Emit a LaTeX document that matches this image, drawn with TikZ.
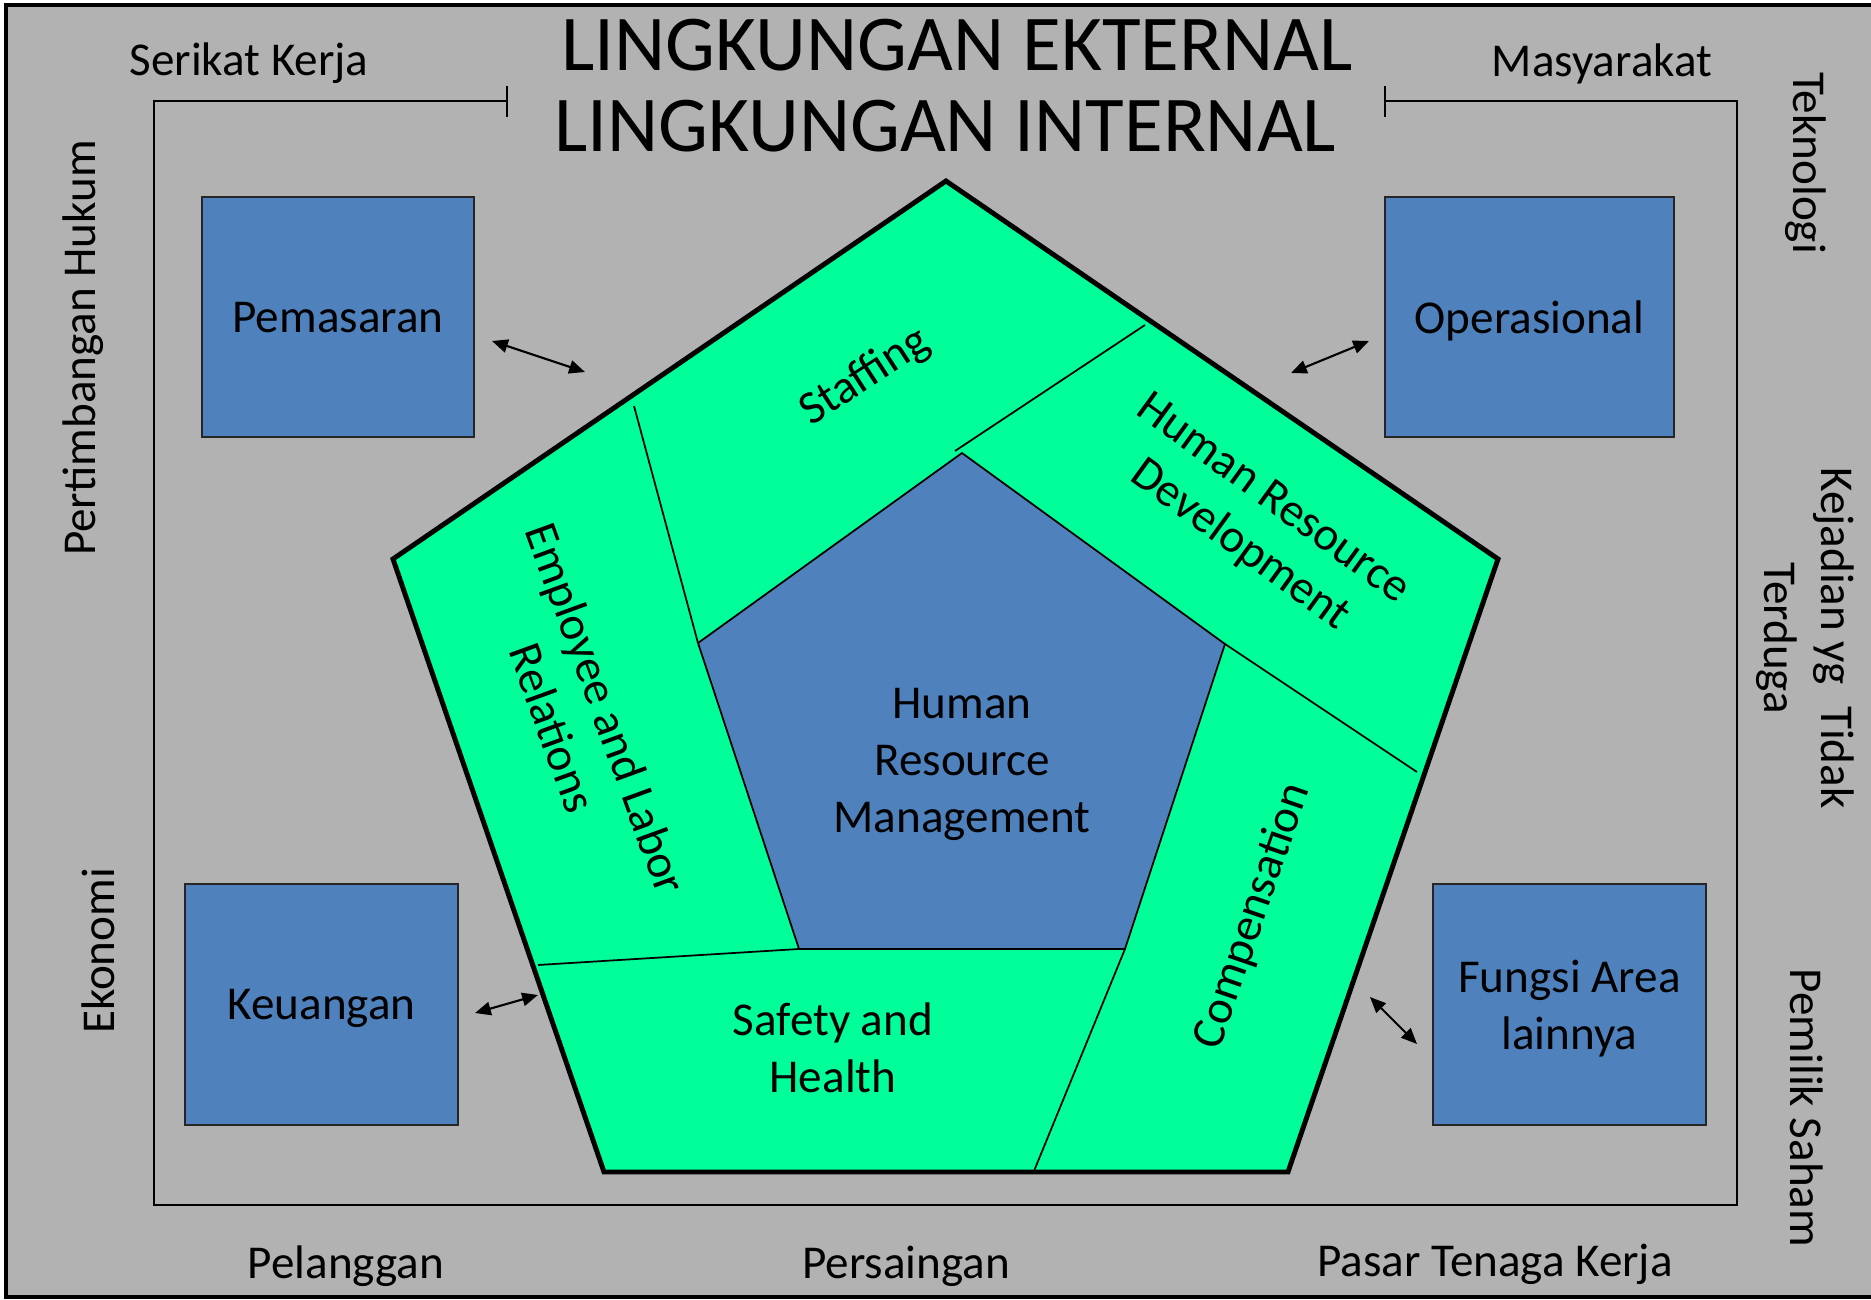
\documentclass[tikz,border=0pt]{standalone}
\usepackage{fontspec}
\setmainfont{Carlito}
\usetikzlibrary{arrows.meta}

\definecolor{envgray}{HTML}{B2B2B2}
\definecolor{hrgreen}{HTML}{00FF99}
\definecolor{hrblue}{HTML}{4F81BD}

\begin{document}
\begin{tikzpicture}[x=0.01cm,y=-0.01cm]
        \tikzstyle{every node}=[font=\fontsize{13.4}{16.2}\selectfont, inner sep=0pt]
        \tikzstyle{area}=[draw=black!85, line width=0.6pt, fill=hrblue, minimum height=2.4cm, text depth=0pt, align=center]
        \tikzstyle{factor}=[anchor=base]
        \tikzstyle{field}=[align=center]
        \tikzstyle{cut}=[line width=0.5pt]
        \tikzstyle{link}=[line width=0.6pt, {Triangle[length=4.5pt,width=3.8pt]}-{Triangle[length=4.5pt,width=3.8pt]}]

        \useasboundingbox (0,0) rectangle (1871,1300);
        \clip (0,0) rectangle (1871,1300);

        % lingkungan eksternal
        \draw[fill=envgray, line width=1.1pt] (6,5) rectangle (1900,1297);
        \node[factor, font=\fontsize{22.5}{27}\selectfont] (ext) at (957,71) {LINGKUNGAN EKTERNAL};
        \node[factor] (serikat) at (249,76) {Serikat Kerja};
        \node[factor] (masyarakat) at (1602,77) {Masyarakat};
        \node[factor, rotate=90] (hukum) at (96,348) {Pertimbangan Hukum};
        \node[factor, rotate=90] (ekonomi) at (114,951) {Ekonomi};
        \node[factor, rotate=-90] (teknologi) at (1793,163) {Teknologi};
        \node[field, rotate=-90] (kejadian) at (1805,638) {Kejadian yg~~Tidak\\Terduga};
        \node[factor, rotate=-90] (pemilik) at (1790,1108) {Pemilik Saham};
        \node[factor] (pelanggan) at (346,1278) {Pelanggan};
        \node[factor] (persaingan) at (906,1278) {Persaingan};
        \node[factor] (pasar) at (1495,1276) {Pasar Tenaga Kerja};

        % lingkungan internal
        \draw[line width=0.6pt] (507,101) -- (154,101) -- (154,1205) -- (1737,1205) -- (1737,101) -- (1385,101);
        \draw[line width=0.6pt] (507,86) -- (507,117) (1385,86) -- (1385,117);
        \node[factor, font=\fontsize{22.5}{27}\selectfont] (int) at (945,152) {LINGKUNGAN INTERNAL};

        \node[area, minimum width=2.72cm] (pemasaran) at (338,317) {Pemasaran};
        \node[area, minimum width=2.89cm] (operasional) at (1529.5,317) {Operasional};
        \node[area, minimum width=2.73cm] (keuangan) at (321.5,1004.5) {Keuangan};
        \node[area, minimum width=2.73cm] (fungsi) at (1569.5,1004.5) {Fungsi Area\\lainnya};

        % pentagon HRM
        \coordinate (pT) at (946,181);
        \coordinate (pR) at (1498,559);
        \coordinate (pBR) at (1288,1172);
        \coordinate (pBL) at (604,1172);
        \coordinate (pL) at (393,559);
        \filldraw[fill=hrgreen, line width=1.4pt, line join=miter] (pT) -- (pR) -- (pBR) -- (pBL) -- (pL) -- cycle;

        \coordinate (cT) at (962,453);
        \coordinate (cR) at (1225,644);
        \coordinate (cBR) at (1125,949);
        \coordinate (cBL) at (799,949);
        \coordinate (cL) at (698,643);
        \filldraw[fill=hrblue, cut] (cT) -- (cR) -- (cBR) -- (cBL) -- (cL) -- cycle;

        \draw[cut] (634,406) -- (cL);
        \draw[cut] (1145,325) -- (955,451);
        \draw[cut] (cR) -- (1417,772);
        \draw[cut] (cBR) -- (1034,1171);
        \draw[cut] (cBL) -- (538,965);

        \node[field] (hrm) at (962,764) {Human\\Resource\\Management};
        \node[field, rotate=33] (staffing) at (865,377) {Staffing};
        \node[field, rotate=-36] (hrd) at (1256,523) {Human Resource\\Development};
        \node[field, rotate=-70] (elr) at (580,718) {Employee and Labor\\Relations};
        \node[field, rotate=71] (comp) at (1253,916) {Compensation};
        \node[field] (safety) at (833,1048) {Safety and\\Health};

        % panah
        \coordinate (a1) at (492,341);
        \coordinate (b1) at (585,372);
        \coordinate (a2) at (1369,341);
        \coordinate (b2) at (1291,373);
        \coordinate (a3) at (475,1013);
        \coordinate (b3) at (538,995);
        \coordinate (a4) at (1370,997);
        \coordinate (b4) at (1417,1044);
        \draw[link] (a1) -- (b1);
        \draw[link] (a2) -- (b2);
        \draw[link] (a3) -- (b3);
        \draw[link] (a4) -- (b4);
\end{tikzpicture}
\end{document}
